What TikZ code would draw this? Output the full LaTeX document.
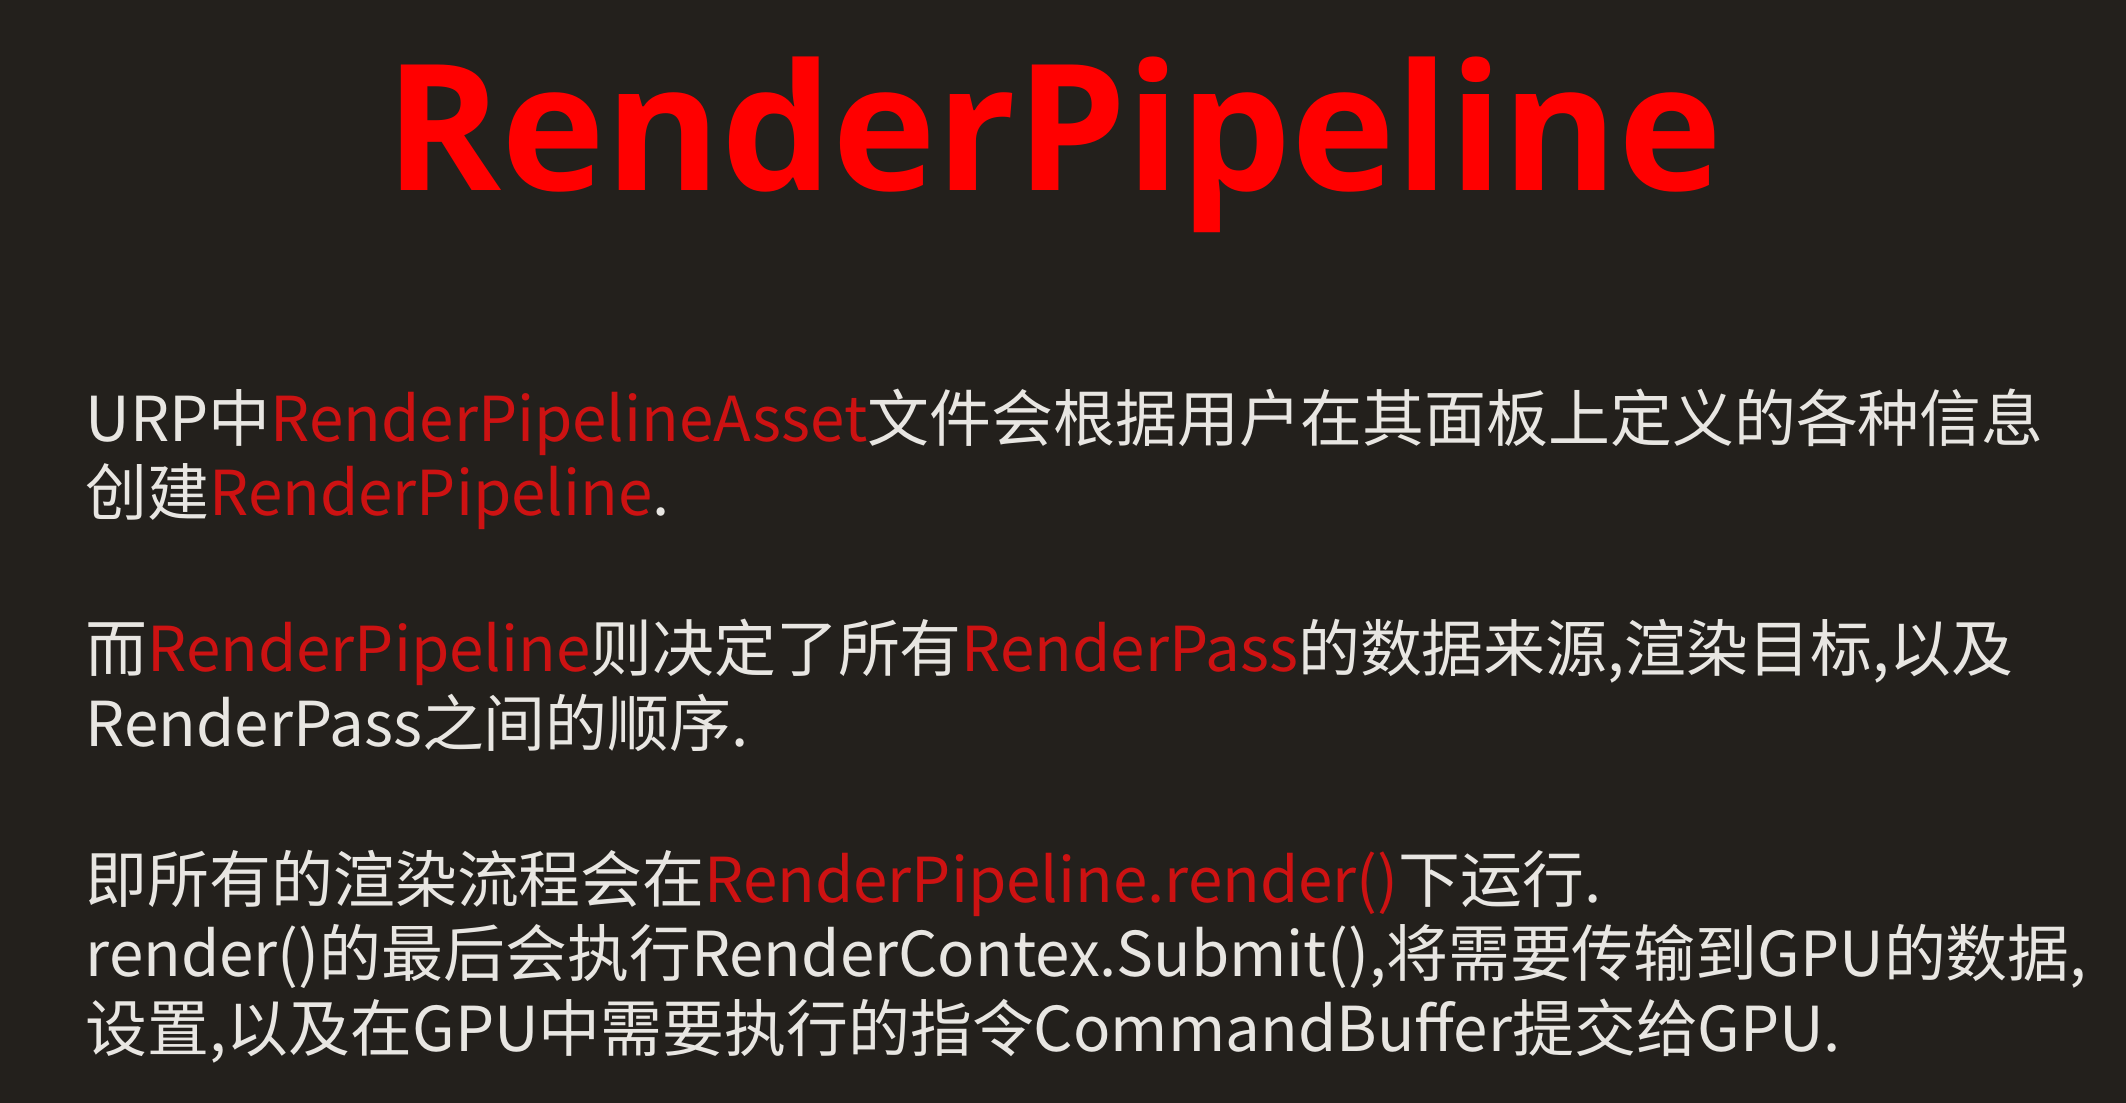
\documentclass[tikz,border=0pt]{standalone}
\usepackage{fontspec}
\usepackage{tikz}
\newfontfamily\cjk{Noto Sans CJK SC}
\newfontfamily\titlefont{Open Sans}

\definecolor{bgdark}{RGB}{35,32,28}
\definecolor{titlered}{RGB}{255,0,0}
\definecolor{hlred}{RGB}{205,18,18}
\definecolor{bodywhite}{RGB}{232,230,226}

\newcommand{\hl}[1]{\textcolor{hlred}{#1}}

\tikzset{
  bodyline/.style = {anchor=base west, inner sep=0pt, text=bodywhite,
    font=\cjk\fontsize{17.6pt}{17.6pt}\selectfont},
  slidetitle/.style = {anchor=base, inner sep=0pt, text=titlered,
    font=\titlefont\bfseries\fontsize{50pt}{50pt}\selectfont}
}

\begin{document}
\begin{tikzpicture}[x = 0.01cm, y = -0.01cm]
%background
\fill[bgdark] (0,0) rectangle (2126,1103);
\useasboundingbox (0,0) rectangle (2126,1103);

\node[slidetitle] (title) at (1054,190) {RenderPipeline};

%first block
\node[bodyline] (line1) at (85,441) {URP中\hl{RenderPipelineAsset}文件会根据用户在其面板上定义的各种信息};
\node[bodyline] (line2) at (85,515) {创建\hl{RenderPipeline}.};

%second block
\node[bodyline] (line3) at (85,671) {而\hl{RenderPipeline}则决定了所有\hl{RenderPass}的数据来源,渲染目标,以及};
\node[bodyline] (line4) at (85,746) {RenderPass之间的顺序.};

%third block
\node[bodyline] (line5) at (85,902) {即所有的渲染流程会在\hl{RenderPipeline.render()}下运行.};
\node[bodyline] (line6) at (85,976) {render()的最后会执行RenderContex.Submit(),将需要传输到GPU的数据,};
\node[bodyline] (line7) at (85,1051) {设置,以及在GPU中需要执行的指令CommandBuffer提交给GPU.};

\end{tikzpicture}
\end{document}
